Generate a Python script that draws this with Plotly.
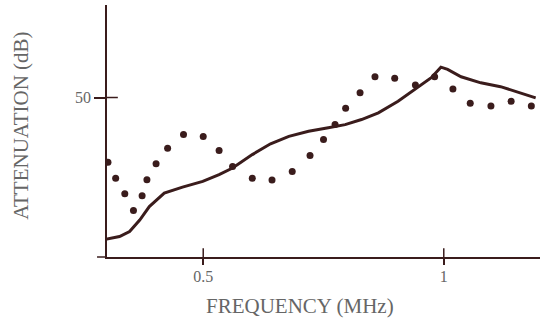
import plotly.graph_objects as go

# Measured (solid line) attenuation
line_freq = [0.299, 0.326, 0.347, 0.368, 0.388, 0.419, 0.457, 0.499, 0.533, 0.561, 0.602,
             0.640, 0.678, 0.719, 0.760, 0.795, 0.829, 0.864, 0.905, 0.939, 0.974, 0.994,
             1.008, 1.036, 1.077, 1.118, 1.160, 1.191]
line_att = [5.6, 6.4, 8.0, 11.6, 15.8, 20.0, 21.9, 23.7, 25.8, 27.9, 32.1,
            35.5, 37.8, 39.4, 40.5, 41.5, 43.1, 45.2, 48.8, 52.5, 56.2, 59.5,
            58.8, 56.5, 54.6, 53.4, 51.5, 49.9]

# Dotted series
dot_freq = [0.302, 0.318, 0.337, 0.355, 0.373, 0.383, 0.402, 0.426, 0.459, 0.500, 0.533,
            0.561, 0.602, 0.643, 0.685, 0.722, 0.750, 0.774, 0.796, 0.826, 0.857, 0.898,
            0.941, 0.981, 1.019, 1.055, 1.098, 1.140, 1.182]
dot_att = [29.7, 24.7, 19.8, 14.6, 19.2, 24.2, 29.2, 34.1, 38.4, 37.8, 33.4,
           28.4, 24.7, 24.1, 26.8, 31.8, 36.8, 41.5, 46.6, 51.5, 56.5, 56.0,
           53.9, 56.5, 52.7, 48.2, 47.3, 48.8, 47.3]

x_ticks = [0.5, 1]
x_tick_labels = ["0.5", "1"]
y_ticks = [50]
y_tick_labels = ["50"]

ink = "#3a1c1c"
gray = "#666666"
font = "Liberation Serif"

fig = go.Figure()
fig.add_trace(go.Scatter(x=dot_freq, y=dot_att, mode="markers",
                         marker=dict(size=7, color=ink), showlegend=False))
fig.add_trace(go.Scatter(x=line_freq, y=line_att, mode="lines",
                         line=dict(color=ink, width=3), showlegend=False))

shapes = []
# inner halves of cross ticks
for t in x_ticks:
    shapes.append(dict(type="line", xref="x", yref="paper", x0=t, x1=t, y0=0, y1=0.035,
                       line=dict(color=ink, width=1.5)))
for t in y_ticks:
    shapes.append(dict(type="line", xref="paper", yref="y", x0=0, x1=0.025, y0=t, y1=t,
                       line=dict(color=ink, width=1.5)))
# x axis line extending left of y axis
shapes.append(dict(type="line", xref="paper", yref="paper", x0=-0.023, x1=0, y0=0, y1=0,
                   line=dict(color=ink, width=1.5)))

fig.update_layout(
    width=540, height=321,
    margin=dict(l=107, r=0, t=5, b=64),
    paper_bgcolor="white", plot_bgcolor="white",
    font=dict(family=font, color=gray, size=16),
    shapes=shapes,
    xaxis=dict(range=[0.3, 1.2], tickvals=x_ticks, ticktext=x_tick_labels,
               showgrid=False, zeroline=False, showline=True, linecolor=ink, linewidth=1.5,
               ticks="outside", ticklen=6, tickwidth=1.5, tickcolor=ink,
               ticklabelstandoff=-2),
    yaxis=dict(range=[0, 79], tickvals=y_ticks, ticktext=y_tick_labels,
               showgrid=False, zeroline=False, showline=True, linecolor=ink, linewidth=1.5,
               ticks="outside", ticklen=11, tickwidth=1.5, tickcolor=ink),
    annotations=[
        dict(text="FREQUENCY (MHz)", xref="paper", yref="paper", x=0.446, y=-0.194,
             xanchor="center", yanchor="middle", showarrow=False,
             font=dict(family=font, size=21, color=gray)),
        dict(text="ATTENUATION (dB)", xref="paper", yref="paper", x=-0.199, y=0.52,
             xanchor="center", yanchor="middle", textangle=-90, showarrow=False,
             font=dict(family=font, size=21, color=gray)),
    ],
)

fig.write_html("out.html", config={"displayModeBar": False},
               post_script="document.body.style.margin='0';")
